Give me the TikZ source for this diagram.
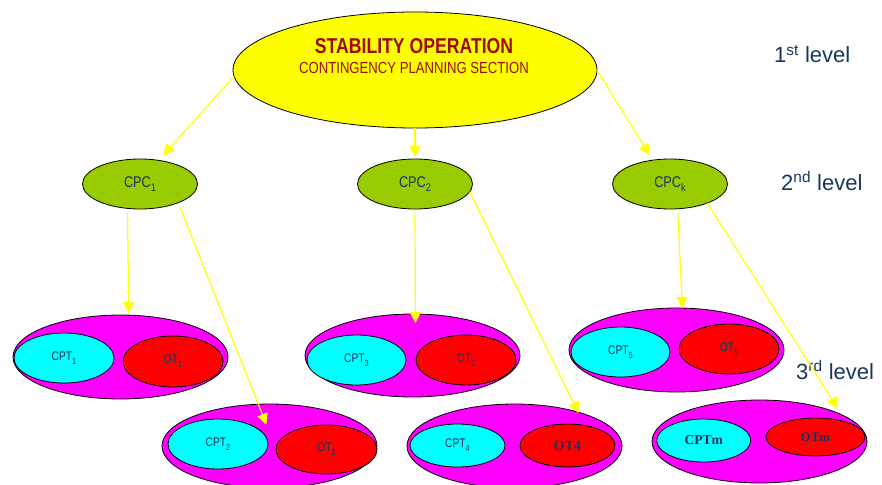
\documentclass[tikz,border=0pt]{standalone}
\usepackage{fontspec}
\setmainfont{Liberation Sans}
\newfontfamily\narrowfont[FakeStretch=0.82]{Liberation Sans}
\newfontfamily\serifbold{Liberation Serif}
\usetikzlibrary{shapes.geometric,arrows.meta}
\newcommand\lsub[1]{\raisebox{-0.3em}{\scalebox{0.72}{#1}}}
\definecolor{lvlblue}{RGB}{23,55,94}
\definecolor{txtblue}{RGB}{28,50,95}
\definecolor{darkred}{RGB}{160,10,0}
\definecolor{cpcgreen}{RGB}{153,204,0}
\definecolor{ayellow}{RGB}{255,255,0}
\definecolor{gmag}{RGB}{255,0,255}
\definecolor{gcyan}{RGB}{0,255,255}
\definecolor{gred}{RGB}{255,0,0}
\tikzset{
  ell/.style={ellipse, draw=black, line width=0.8pt, inner sep=0pt, outer sep=0pt},
  topell/.style={ell, fill=ayellow, minimum width=364pt, minimum height=116pt},
  cpc/.style={ell, fill=cpcgreen, minimum width=115pt, minimum height=50pt, text=txtblue,
    font=\narrowfont\fontsize{15.5}{18}\selectfont},
  grp/.style={ell, fill=gmag, minimum width=215pt, minimum height=84pt},
  cpt/.style={ell, fill=gcyan, text=txtblue, font=\narrowfont\fontsize{12.5}{14}\selectfont},
  ot/.style={ell, fill=gred, text=txtblue, font=\narrowfont\fontsize{12.5}{14}\selectfont},
  serifl/.style={font=\serifbold\bfseries\fontsize{14}{16}\selectfont},
  lvl/.style={anchor=base west, text=lvlblue, font=\fontsize{22}{26}\selectfont, inner sep=0pt},
  toptxt/.style={anchor=base, text=darkred, inner sep=0pt},
  arr/.style={draw=ayellow, line width=1.2pt, -{Triangle[length=11pt,width=11pt]}}
}
\begin{document}
\begin{tikzpicture}[x=1pt,y=-1pt]
\useasboundingbox (0,0) rectangle (882,484);
% top
\node[topell] (top) at (415,70) {};
\node[toptxt, font=\narrowfont\bfseries\fontsize{21.5}{24}\selectfont] (title) at (414,54) {STABILITY OPERATION};
\node[toptxt, font=\narrowfont\fontsize{16}{18}\selectfont] (subtitle) at (414,74) {CONTINGENCY PLANNING SECTION};
% second level
\node[cpc] (cpc1) at (140,184) {CPC\lsub{1}};
\node[cpc] (cpc2) at (415,184) {CPC\lsub{2}};
\node[cpc] (cpck) at (670,184) {CPC\lsub{k}};
% groups
\node[grp] (g1) at (120.5,357) {};
\node[cpt, minimum width=100pt, minimum height=50pt] (cpt1) at (64,358) {CPT\lsub{1}};
\node[ot, minimum width=100pt, minimum height=51pt] (ot1) at (173,361.5) {OT\lsub{1}};

\node[grp, minimum height=83pt] (g3) at (412.5,355.5) {};
\node[cpt, minimum width=99pt, minimum height=50pt] (cpt3) at (356.5,360) {CPT\lsub{3}};
\node[ot, minimum width=100pt, minimum height=50pt] (ot3) at (466,360) {OT\lsub{3}};

\node[grp] (g5) at (676.5,350) {};
\node[cpt, minimum width=99pt, minimum height=50pt] (cpt5) at (620.5,352) {CPT\lsub{5}};
\node[ot, minimum width=100pt, minimum height=50pt] (ot5) at (729,349) {OT\lsub{5}};

\node[grp] (g2) at (269.5,446) {};
\node[cpt, minimum width=100pt, minimum height=50pt] (cpt2) at (218,444) {CPT\lsub{2}};
\node[ot, minimum width=101pt, minimum height=49pt] (ot2) at (326.5,449.5) {OT\lsub{2}};

\node[grp] (g4) at (514.5,446) {};
\node[cpt, minimum width=95pt, minimum height=43pt] (cpt4) at (457.5,445.5) {CPT\lsub{4}};
\node[ot, serifl, minimum width=95pt, minimum height=43pt] (ot4) at (567.5,445.5) {OT4};

\node[grp, minimum height=83pt] (gm) at (759.5,441.5) {};
\node[cpt, font=\serifbold\bfseries\fontsize{13.5}{16}\selectfont, minimum width=94pt, minimum height=43pt] (cptm) at (703.7,440.5) {CPTm};
\node[ot, font=\serifbold\bfseries\fontsize{13}{16}\selectfont, minimum width=99pt, minimum height=38pt] (otm) at (815.5,437) {OTm};
% level labels
\node[lvl] (l1) at (774,62.7) {1\textsuperscript{st} level};
\node[lvl] (l2) at (781,190) {2\textsuperscript{nd} level};
\node[lvl] (l3) at (796,379) {3\textsuperscript{rd} level};
% connectors
\draw[arr, shorten >=7pt] (top.182.5) -- (cpc1.52.5);
\draw[arr, shorten >=2pt] (top.south) -- (cpc2.north);
\draw[arr, shorten >=6pt] (top.east) -- (cpck.126.8);
\draw[arr, shorten <=4.5pt, shorten >=2pt] (cpc1.243.8) -- (g1.79.2);
\draw[arr, shorten <=3.75pt, shorten >=-22pt] (cpc1.334.4) -- (g2.105.5);
\draw[arr, shorten <=4pt, shorten >=-9pt] (cpc2.south) -- (g3.86.6);
\draw[arr, shorten >=-1pt] (cpc2.352) -- (g4.28);
\draw[arr, shorten <=4pt] (cpck.287.3) -- (g5.82.5);
\draw[arr, shorten >=7.5pt] (cpck.333.4) -- (gm.18.5);
\end{tikzpicture}
\end{document}
